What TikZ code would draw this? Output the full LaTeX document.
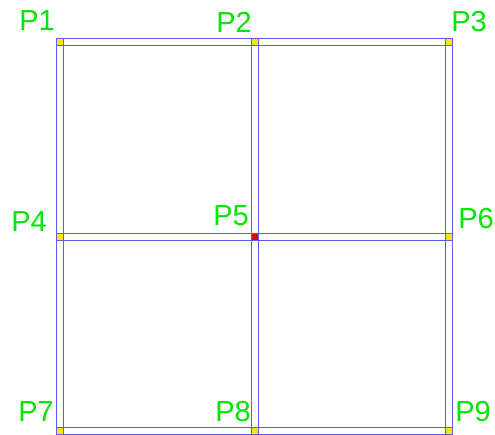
\documentclass[tikz,border=0pt]{standalone}
\usepackage{fontspec}
\setmainfont{Liberation Sans}
\definecolor{beamblue}{RGB}{92,92,235}
\definecolor{ptyellow}{RGB}{255,230,0}
\definecolor{ptred}{RGB}{220,0,0}
\definecolor{lblgreen}{RGB}{0,230,0}
\begin{document}
\begin{tikzpicture}[x=1pt,y=-1pt,
  joint/.style={rectangle,fill=ptyellow,draw=none,inner sep=0pt,outer sep=0pt,minimum size=6.5pt},
  centre/.style={joint,fill=ptred},
  beam/.style={draw=beamblue,line width=1.2pt},
  lbl/.style={text=lblgreen,inner sep=0pt,font=\fontsize{29}{29}\selectfont}]
\useasboundingbox (0,0) rectangle (495,435);
% joints
\node[joint]  (P1) at (60,42) {};
\node[joint]  (P2) at (255,42) {};
\node[joint]  (P3) at (449,42) {};
\node[joint]  (P4) at (60,237) {};
\node[centre] (P5) at (255,237) {};
\node[joint]  (P6) at (449,237) {};
\node[joint]  (P7) at (60,431) {};
\node[joint]  (P8) at (255,431) {};
\node[joint]  (P9) at (449,431) {};
% beams (horizontal)
\draw[beam] (P1.north west) rectangle (P3.south east);
\draw[beam] (P4.north west) rectangle (P6.south east);
\draw[beam] (P7.north west) rectangle (P9.south east);
% columns (vertical)
\draw[beam] (P1.north west) rectangle (P7.south east);
\draw[beam] (P2.north west) rectangle (P8.south east);
\draw[beam] (P3.north west) rectangle (P9.south east);
% labels
\node[lbl] (L1) at (37,21) {P1};
\node[lbl] (L2) at (234,22) {P2};
\node[lbl] (L3) at (469,22) {P3};
\node[lbl] (L4) at (29,222) {P4};
\node[lbl] (L5) at (231,216) {P5};
\node[lbl] (L6) at (476,219) {P6};
\node[lbl] (L7) at (36,412) {P7};
\node[lbl] (L8) at (233,412) {P8};
\node[lbl] (L9) at (473,412) {P9};
\end{tikzpicture}
\end{document}
